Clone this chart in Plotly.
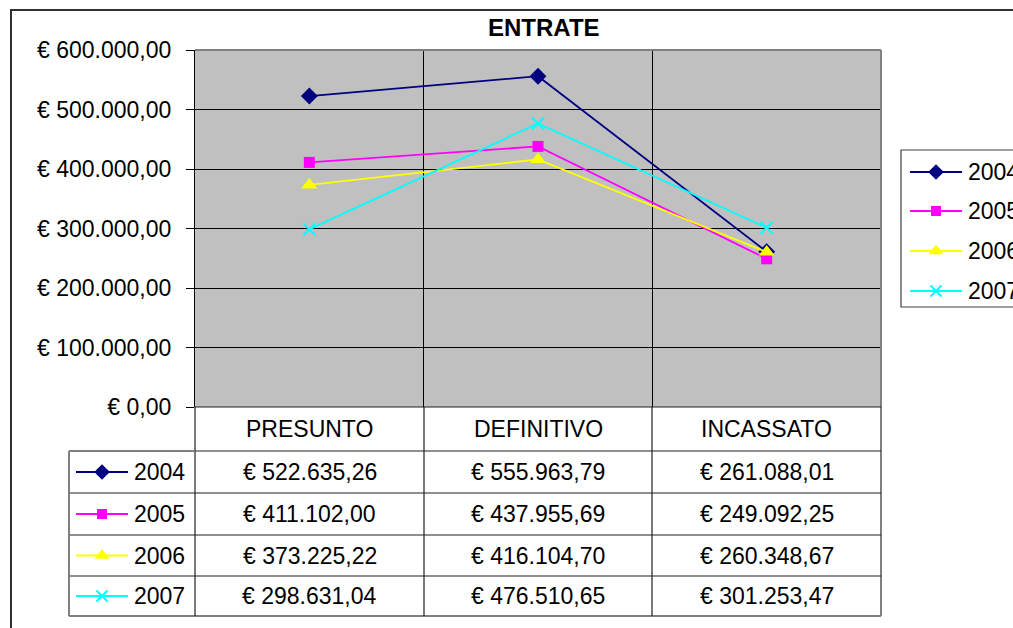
import plotly.graph_objects as go

W, H = 1013, 628

categories = ["PRESUNTO", "DEFINITIVO", "INCASSATO"]
years = ["2004", "2005", "2006", "2007"]
values_2004 = [522635.26, 555963.79, 261088.01]
values_2005 = [411102.00, 437955.69, 249092.25]
values_2006 = [373225.22, 416104.70, 260348.67]
values_2007 = [298631.04, 476510.65, 301253.47]
series_values = [values_2004, values_2005, values_2006, values_2007]
y_ticks = [0, 100000, 200000, 300000, 400000, 500000, 600000]

colors = ["#000080", "#FF00FF", "#FFFF00", "#00FFFF"]
symbols = ["diamond", "square", "triangle-up", "x-thin-open"]
msizes = [13, 11, 14, 12]

FONT = "Liberation Sans, Arial, sans-serif"
FS = 23


def eur(v):
    s = f"{v:,.2f}"
    s = s.replace(",", "X").replace(".", ",").replace("X", ".")
    return "€ " + s


# pixel geometry
PL, PR, PT, PB = 195, 881, 50, 407
row_edges = [407, 451, 493, 535, 576, 616]
col_edges = [PL, 424, 652, PR]
TL = 69


def px(x):
    return x / W


def py(y):
    return 1 - y / H


def marker_for(i, shrink=0):
    mk = dict(symbol=symbols[i], size=msizes[i] - shrink, color=colors[i])
    if "x-thin" in symbols[i]:
        mk["line"] = dict(color=colors[i], width=2)
    else:
        mk["line"] = dict(width=0)
    return mk


fig = go.Figure()

xpos = [i + 0.5 for i in range(len(categories))]
for i, yr in enumerate(years):
    fig.add_trace(go.Scatter(
        x=xpos, y=series_values[i], mode="lines+markers", name=yr,
        line=dict(color=colors[i], width=1.8), marker=marker_for(i),
        showlegend=False, xaxis="x", yaxis="y", cliponaxis=False,
    ))

# legend keys (pixel overlay axis)
legend_rows_y = [172, 211, 251, 291]
table_rows_y = [(row_edges[k + 1] + row_edges[k]) / 2 for k in range(1, 5)]
for i, yr in enumerate(years):
    for (x0, x1, yy) in [(910, 962, legend_rows_y[i]), (76, 128, table_rows_y[i])]:
        fig.add_trace(go.Scatter(
            x=[x0, x1], y=[yy, yy], mode="lines",
            line=dict(color=colors[i], width=1.8), showlegend=False,
            xaxis="x2", yaxis="y2", hoverinfo="skip",
        ))
        fig.add_trace(go.Scatter(
            x=[(x0 + x1) / 2], y=[yy], mode="markers", marker=marker_for(i, 1),
            showlegend=False, xaxis="x2", yaxis="y2", hoverinfo="skip",
        ))

shapes = []
# outer chart border
shapes.append(dict(type="rect", xref="paper", yref="paper",
                   x0=px(11), x1=px(W + 20), y0=py(10), y1=py(H + 20),
                   line=dict(color="#303030", width=2), fillcolor="white", layer="below"))
# plot area fill
shapes.append(dict(type="rect", xref="paper", yref="paper",
                   x0=px(PL), x1=px(PR), y0=py(PB), y1=py(PT),
                   line=dict(width=0), fillcolor="#C0C0C0", layer="below"))
# legend box
shapes.append(dict(type="rect", xref="paper", yref="paper",
                   x0=px(901), x1=px(W + 30), y0=py(307), y1=py(150),
                   line=dict(color="#404040", width=1.2), fillcolor="white", layer="below"))
# plot area gray border top/right
shapes.append(dict(type="line", xref="paper", yref="paper",
                   x0=px(PL), x1=px(PR), y0=py(PT), y1=py(PT),
                   line=dict(color="#808080", width=2)))
shapes.append(dict(type="line", xref="paper", yref="paper",
                   x0=px(PR), x1=px(PR), y0=py(PT), y1=py(row_edges[-1]),
                   line=dict(color="#808080", width=2)))
# table lines
for k, ry in enumerate(row_edges):
    last = k == len(row_edges) - 1
    x_start = PL if k == 0 else TL
    shapes.append(dict(type="line", xref="paper", yref="paper",
                       x0=px(x_start), x1=px(PR), y0=py(ry), y1=py(ry),
                       line=dict(color="#808080" if last else "#202020", width=2 if last else 1.2)))
for cx in col_edges[:-1]:
    shapes.append(dict(type="line", xref="paper", yref="paper",
                       x0=px(cx), x1=px(cx), y0=py(PB), y1=py(row_edges[-1]),
                       line=dict(color="#202020", width=1.2)))
shapes.append(dict(type="line", xref="paper", yref="paper",
                   x0=px(TL), x1=px(TL), y0=py(row_edges[1]), y1=py(row_edges[-1]),
                   line=dict(color="#808080", width=2)))
shapes.append(dict(type="line", xref="paper", yref="paper",
                   x0=px(TL), x1=px(PL), y0=py(row_edges[1]), y1=py(row_edges[1]),
                   line=dict(color="#808080", width=2)))

annotations = []
annotations.append(dict(text="<b>ENTRATE</b>", x=px(544), y=py(28), xref="paper", yref="paper",
                        showarrow=False, font=dict(size=24, color="black", family=FONT),
                        xanchor="center", yanchor="middle"))
for j, cat in enumerate(categories):
    cx = (col_edges[j] + col_edges[j + 1]) / 2
    annotations.append(dict(text=cat, x=px(cx), y=py((row_edges[0] + row_edges[1]) / 2),
                            xref="paper", yref="paper", showarrow=False,
                            font=dict(size=FS, color="black", family=FONT),
                            xanchor="center", yanchor="middle"))
for i, yr in enumerate(years):
    yy = table_rows_y[i]
    annotations.append(dict(text=yr, x=px(132), y=py(yy), xref="paper", yref="paper",
                            showarrow=False, font=dict(size=FS, color="black", family=FONT),
                            xanchor="left", yanchor="middle"))
    annotations.append(dict(text=yr, x=px(966), y=py(legend_rows_y[i]), xref="paper", yref="paper",
                            showarrow=False, font=dict(size=FS, color="black", family=FONT),
                            xanchor="left", yanchor="middle"))
    for j in range(len(categories)):
        cx = (col_edges[j] + col_edges[j + 1]) / 2
        annotations.append(dict(text=eur(series_values[i][j]), x=px(cx), y=py(yy),
                                xref="paper", yref="paper", showarrow=False,
                                font=dict(size=FS, color="black", family=FONT),
                                xanchor="center", yanchor="middle"))

fig.update_layout(
    template="none",
    width=W, height=H, autosize=False,
    margin=dict(l=0, r=0, t=0, b=0, pad=0, autoexpand=False),
    paper_bgcolor="white", plot_bgcolor="rgba(0,0,0,0)",
    shapes=shapes, annotations=annotations, showlegend=False,
    font=dict(family=FONT, color="black"),
    xaxis=dict(domain=[px(PL), px(PR)], range=[0, 3], tickvals=[0, 1, 2, 3],
               showticklabels=False, showgrid=True, gridcolor="black", gridwidth=1,
               zeroline=False, showline=False, ticks="", anchor="y", automargin=False),
    yaxis=dict(domain=[py(PB), py(PT)], range=[0, 600000], tickvals=y_ticks,
               ticktext=[eur(v) for v in y_ticks], showgrid=True, gridcolor="black",
               gridwidth=1, zeroline=False, showline=True, linecolor="black", linewidth=1.2,
               ticks="outside", ticklen=8, tickcolor="black", tickwidth=1.2,
               ticklabelstandoff=10, automargin=False,
               tickfont=dict(size=FS, color="black", family=FONT), anchor="x"),
    xaxis2=dict(domain=[0, 1], range=[0, W], visible=False, anchor="y2",
                fixedrange=True, automargin=False),
    yaxis2=dict(domain=[0, 1], range=[H, 0], visible=False, anchor="x2",
                fixedrange=True, automargin=False),
)

fig.write_html(
    "out.html",
    config={"displayModeBar": False},
    post_script="document.body.style.margin='0';document.body.style.overflow='hidden';",
)
